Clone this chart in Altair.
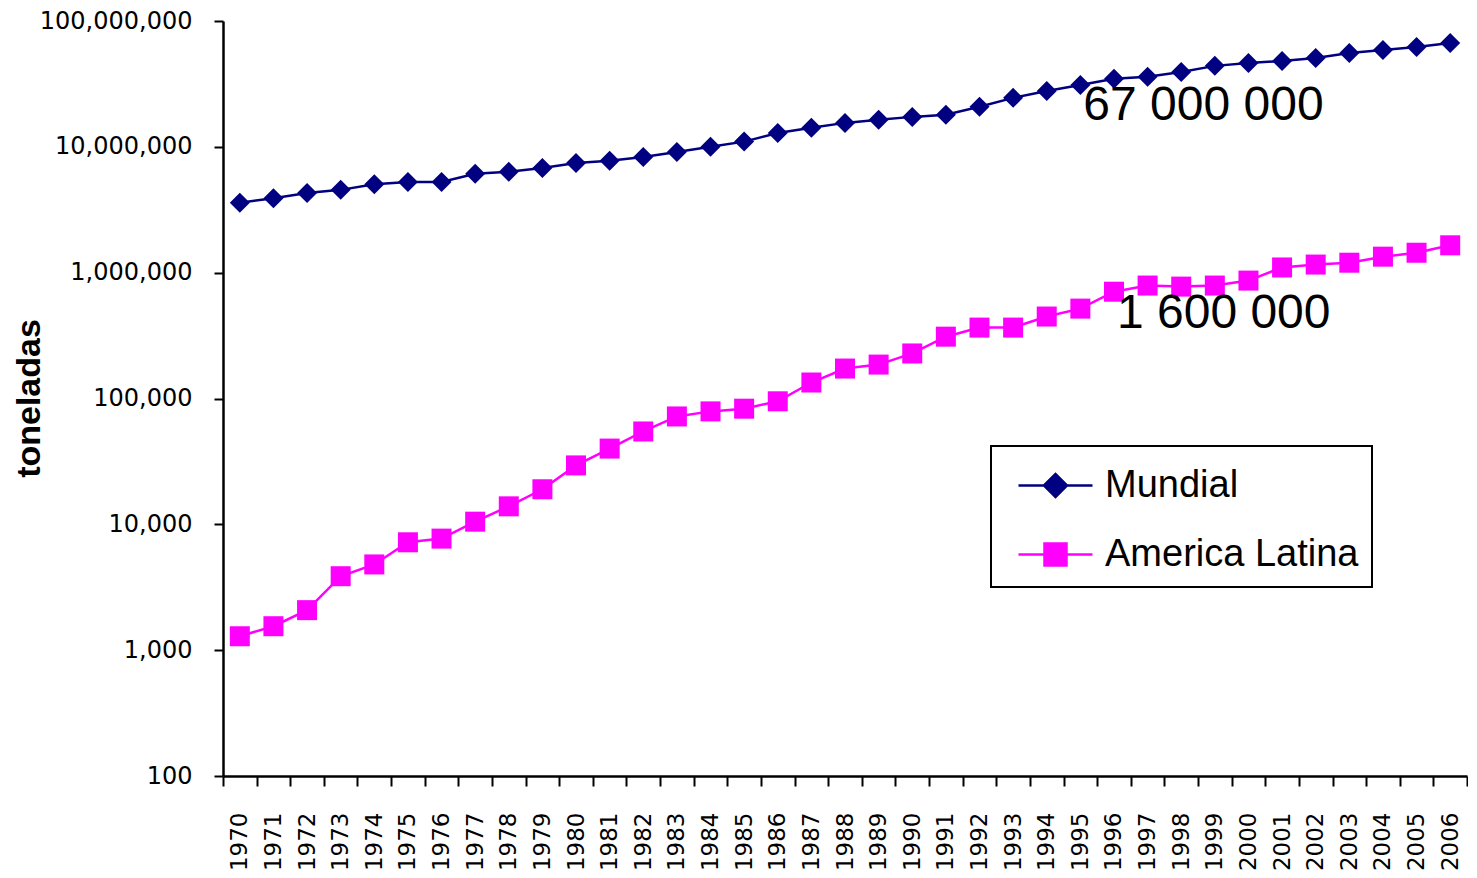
import altair as alt
import pandas as pd

years = [str(y) for y in range(1970, 2007)]

mundial = [3.6e6, 3.9e6, 4.3e6, 4.55e6, 5.05e6, 5.25e6, 5.25e6, 6.1e6, 6.35e6, 6.8e6,
           7.45e6, 7.75e6, 8.3e6, 9.1e6, 10.0e6, 11.0e6, 12.9e6, 14.2e6, 15.5e6, 16.4e6,
           17.3e6, 18.0e6, 20.8e6, 24.5e6, 27.8e6, 31.0e6, 34.7e6, 36.0e6, 39.4e6, 44.0e6,
           46.4e6, 48.2e6, 50.8e6, 55.7e6, 58.9e6, 62.2e6, 67.0e6]

america_latina = [1290, 1550, 2080, 3870, 4800, 7200, 7700, 10500, 13900, 19000,
                  29400, 40000, 54700, 72000, 79000, 83000, 95000, 134000, 173000, 186000,
                  228000, 310000, 366000, 366000, 448000, 518000, 706000, 790000, 775000, 790000,
                  865000, 1100000, 1160000, 1200000, 1340000, 1440000, 1650000]

series_names = ["Mundial", "America Latina"]
series_colors = ["#000080", "#FF00FF"]
series_shapes = ["diamond", "square"]

ann_years = ["1995", "1996"]
ann_values = [16.4e6, 360000]
ann_labels = ["67 000 000", "1 600 000"]

y_ticks = [100, 1000, 10000, 100000, 1000000, 10000000, 100000000]

df = pd.DataFrame({
    "year": years * 2,
    "value": mundial + america_latina,
    "serie": [series_names[0]] * len(years) + [series_names[1]] * len(years),
})
ann = pd.DataFrame({"year": ann_years, "value": ann_values, "label": ann_labels})

x_enc = alt.X("year:O", sort=years,
              scale=alt.Scale(type="band", paddingInner=0, paddingOuter=0, domain=years),
              axis=alt.Axis(title=None, labelAngle=270, labelFont="DejaVu Sans", labelFontSize=23,
                            labelColor="black", tickBand="extent", tickSize=10, tickWidth=2,
                            tickColor="black", domainColor="black", domainWidth=2.5,
                            labelPadding=26, labelAlign="right", labelBaseline="middle"))
y_enc = alt.Y("value:Q",
              scale=alt.Scale(type="log", domain=[100, 100000000], nice=False),
              axis=alt.Axis(values=y_ticks, format=",", title="toneladas",
                            labelFont="DejaVu Sans", labelFontSize=24, labelColor="black",
                            tickSize=9, tickWidth=2, tickColor="black",
                            domainColor="black", domainWidth=2.5, labelPadding=22, grid=False,
                            titleFont="Liberation Sans", titleFontSize=34, titleFontWeight="bold",
                            titleColor="black", titleAngle=270, titleX=-184, titleY=377,
                            titleAlign="center", titleBaseline="alphabetic"))

# legend symbols: a short line with the series marker in its middle
legend_paths = ["M-1.48,0H1.48M-0.46,0L0,-0.46L0.46,0L0,0.46Z",
                "M-1.48,0H1.48M-0.44,-0.44H0.44V0.44H-0.44Z"]

legend = alt.Legend(
    title=None, orient="none", legendX=768, legendY=425,
    labelFont="Liberation Sans", labelFontSize=38, labelColor="black", labelLimit=600,
    labelExpr="datum.label + '\u00a0'",
    symbolSize=2500, symbolOffset=25, labelOffset=23, rowPadding=23, padding=13,
    strokeColor="black", fillColor="white", symbolStrokeWidth=2.5, symbolOpacity=1,
)

color_scale = alt.Scale(domain=series_names, range=series_colors)

base = alt.Chart(df)

lines = base.mark_line(strokeWidth=2.5).encode(
    x=x_enc, y=y_enc,
    color=alt.Color("serie:N", sort=series_names, scale=color_scale, legend=legend))

# tiny marks hidden under the visible markers; they carry the legend symbols
legend_layer = base.mark_point(filled=True, size=10, strokeWidth=2.5, opacity=1).encode(
    x=x_enc, y=y_enc,
    color=alt.Color("serie:N", sort=series_names, scale=color_scale, legend=legend),
    stroke=alt.Stroke("serie:N", sort=series_names,
                      scale=alt.Scale(domain=series_names, range=series_colors), legend=legend),
    shape=alt.Shape("serie:N", sort=series_names,
                    scale=alt.Scale(domain=series_names, range=legend_paths), legend=legend),
)

point_layers = []
for name, col, shp in zip(series_names, series_colors, series_shapes):
    point_layers.append(
        base.transform_filter(alt.datum.serie == name)
        .mark_point(filled=True, size=400, opacity=1, shape=shp, color=col)
        .encode(x=x_enc, y=y_enc)
    )

texts = alt.Chart(ann).mark_text(align="left", baseline="alphabetic", font="Liberation Sans",
                                 fontSize=48, color="black", dx=3).encode(
    x=alt.X("year:O", sort=years), y=alt.Y("value:Q"), text="label:N")

chart = alt.layer(lines, legend_layer, *point_layers, texts).properties(
    width=1244, height=755,
    autosize=alt.AutoSizeParams(type="none"),
    padding={"left": 215, "top": 13, "right": 1, "bottom": 94},
    background="white",
).configure_view(stroke=None).configure_legend(strokeWidth=2, cornerRadius=0)

chart.save("out.html", embed_options={"renderer": "svg", "actions": False})
